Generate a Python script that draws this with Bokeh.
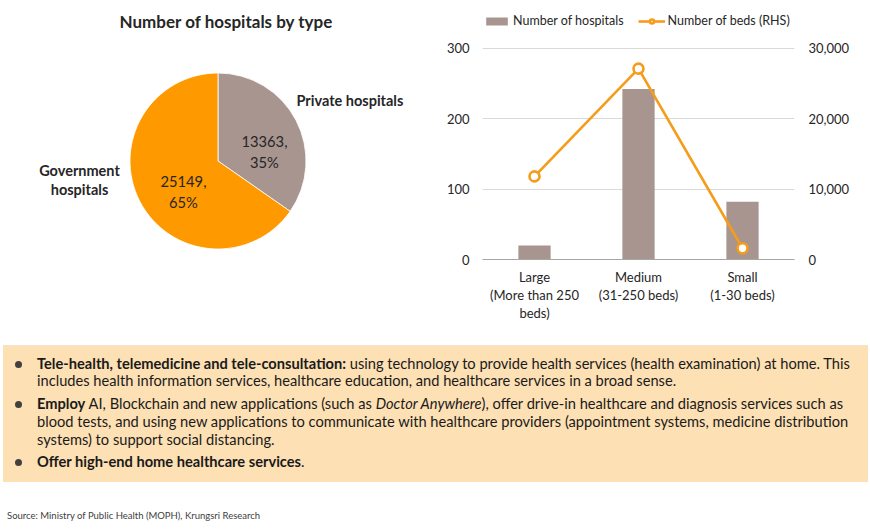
import math
from bokeh.plotting import figure
from bokeh.layouts import column, row
from bokeh.models import (Range1d, FactorRange, LinearAxis, CategoricalAxis, FixedTicker,
                          NumeralTickFormatter, Legend, LegendItem, Div,
                          ColumnDataSource)
from bokeh.core.properties import value
from bokeh.embed import file_html
from bokeh.resources import INLINE

# ---------------- data ----------------
pie_title = "Number of hospitals by type"
pie_labels = ["Private hospitals", "Government\nhospitals"]
pie_values = [13363, 25149]

categories = ["Large", "Medium", "Small"]
label_line2 = ["(More than 250", "(31-250 beds)", "(1-30 beds)"]
label_line3 = ["beds)", " ", "  "]
hospitals = [20, 242, 82]
beds = [11800, 27100, 1600]
left_ticks = [0, 100, 200, 300]
right_ticks = [0, 10000, 20000, 30000]
series_names = ["Number of hospitals", "Number of beds (RHS)"]

source_note = "Source: Ministry of Public Health (MOPH), Krungsri Research"

# ---------------- styles ----------------
FONT = "Lato"
GRAY = "#A8958F"
ORANGE = "#FF9900"
LINE_ORANGE = "#F59C1A"
TXT = "#262626"
TOP_H = 335
BORDER_TOP, BORDER_BOTTOM = 8, 76
FRAME_H = TOP_H - BORDER_TOP - BORDER_BOTTOM      # 251 px
AXIS_H = 211.3                                    # px from 0 to 300 gridline
HEADROOM = FRAME_H / AXIS_H                       # room kept for the legend

# ---------------- pie ----------------
pie = figure(width=428, height=TOP_H, x_range=Range1d(0, 428),
             y_range=Range1d(BORDER_BOTTOM, TOP_H - BORDER_TOP),
             output_backend="svg", toolbar_location=None,
             min_border_left=0, min_border_right=0,
             min_border_top=BORDER_TOP, min_border_bottom=BORDER_BOTTOM)
pie.axis.visible = False
pie.grid.visible = False
pie.outline_line_color = None

total = sum(pie_values)
starts, ends = [], []
cum = 0.0
for v in pie_values:
    starts.append(math.pi / 2 - 2 * math.pi * cum / total)
    cum += v
    ends.append(math.pi / 2 - 2 * math.pi * cum / total)

cx, cy, r = 217.5, TOP_H - 160.5, 88
pie.wedge(x=cx, y=cy, radius=r, radius_units="screen",
          start_angle=starts, end_angle=ends, direction="clock",
          fill_color=[GRAY, ORANGE], line_color="white", line_width=0.8)

pie.text(x=[226], y=[TOP_H - 21], text=[pie_title], text_font=value(FONT),
         text_font_size="17px", text_font_style="bold", text_color=TXT,
         text_align="center", text_baseline="middle")

# data labels
data_offsets = [(46.5, 9.5), (-34.5, -30.5)]
pie.text(x=[cx + dx for dx, dy in data_offsets], y=[cy + dy for dx, dy in data_offsets],
         text=[f"{v},\n{round(100 * v / total)}%" for v in pie_values],
         text_font=value(FONT), text_font_size="14.7px", text_color=TXT,
         text_align="center", text_baseline="middle", text_line_height=1.22)

# category labels
pie.text(x=[cx + 78.5], y=[cy + 60.5], text=[pie_labels[0]],
         text_font=value(FONT), text_font_size="14.5px", text_font_style="bold",
         text_color=TXT, text_align="left", text_baseline="middle")
pie.text(x=[cx - 138.5], y=[cy - 19], text=[pie_labels[1]],
         text_font=value(FONT), text_font_size="14.5px", text_font_style="bold",
         text_color=TXT, text_align="center", text_baseline="middle", text_line_height=1.17)

# ---------------- bar + line ----------------
bar = figure(width=442, height=TOP_H, x_range=FactorRange(factors=categories, range_padding=0),
             y_range=Range1d(0, left_ticks[-1] * HEADROOM), output_backend="svg",
             toolbar_location=None, min_border_left=54, min_border_right=76,
             min_border_top=BORDER_TOP, min_border_bottom=BORDER_BOTTOM)
bar.outline_line_color = None
bar.extra_y_ranges = {"beds": Range1d(0, right_ticks[-1] * HEADROOM)}
bar.extra_x_ranges = {"l2": FactorRange(factors=label_line2, range_padding=0),
                      "l3": FactorRange(factors=label_line3, range_padding=0)}

src = ColumnDataSource(dict(cat=categories, hosp=hospitals, beds=beds))
vb = bar.vbar(x="cat", top="hosp", width=0.31, source=src, fill_color=GRAY, line_color=None)
ln = bar.line(x="cat", y="beds", source=src, y_range_name="beds",
              line_color=LINE_ORANGE, line_width=2.6)
sc = bar.scatter(x="cat", y="beds", source=src, y_range_name="beds", size=10,
                 fill_color="white", line_color=LINE_ORANGE, line_width=2.6)

bar.xgrid.visible = False
bar.ygrid.grid_line_color = "#D9D9D9"
bar.ygrid.ticker = FixedTicker(ticks=left_ticks)

def style_ax(ax, standoff):
    ax.axis_line_color = None
    ax.major_tick_line_color = None
    ax.minor_tick_line_color = None
    ax.major_tick_out = 0
    ax.major_tick_in = 0
    ax.major_label_standoff = standoff
    ax.major_label_text_font = FONT
    ax.major_label_text_font_size = "13px"
    ax.major_label_text_color = TXT

bar.yaxis.ticker = FixedTicker(ticks=left_ticks)
style_ax(bar.yaxis[0], 13)

ry = LinearAxis(y_range_name="beds", ticker=FixedTicker(ticks=right_ticks),
                formatter=NumeralTickFormatter(format="0,0"))
style_ax(ry, 14)
bar.add_layout(ry, "right")

# x axis: three stacked label rows
xa = bar.xaxis[0]
style_ax(xa, 9)
xa.axis_line_color = "#A6A6A6"
for name in ("l2", "l3"):
    ax = CategoricalAxis(x_range_name=name)
    style_ax(ax, -1)
    bar.add_layout(ax, "below")

legend = Legend(items=[LegendItem(label=series_names[0], renderers=[vb]),
                       LegendItem(label=series_names[1], renderers=[ln, sc])],
                orientation="horizontal", location=(1, 231),
                glyph_width=27, glyph_height=10, label_height=10,
                label_standoff=3, spacing=14, padding=0, margin=0,
                border_line_color=None, background_fill_alpha=0,
                label_text_font=FONT, label_text_font_size="12.5px",
                label_text_color=TXT)
bar.add_layout(legend, "center")

# ---------------- text box ----------------
def line_div(center, html, bullet=False):
    b = ""
    if bullet:
        b = (f'<div style="position:absolute;left:15px;top:{center - 3.5}px;width:7px;height:7px;'
             'border-radius:50%;background:#404040;"></div>')
    return b + (f'<div style="position:absolute;left:37px;top:{center - 9}px;height:18px;line-height:18px;'
                f'white-space:nowrap;font-family:{FONT};font-size:14.65px;color:#1a1a1a;">{html}</div>')

box_lines = [
    ("<b>Tele-health, telemedicine and tele-consultation:</b> using technology to provide health services (health examination) at home. This", True),
    ("includes health information services, healthcare education, and healthcare services in a broad sense.", False),
    ("<b>Employ</b> AI, Blockchain and new applications (such as <i>Doctor Anywhere</i>), offer drive-in healthcare and diagnosis services such as", True),
    ("blood tests, and using new applications to communicate with healthcare providers (appointment systems, medicine distribution", False),
    ("systems) to support social distancing.", False),
    ("<b>Offer high-end home healthcare services</b>.", True),
]
line_centers = [29, 46, 69, 87, 105, 127]

inner = ('<div style="position:absolute;left:3px;top:10px;width:865px;height:137px;'
         'background:#FDE0B4;border-top:1px solid #F3E3CB;"></div>')
for (h, bl), c in zip(box_lines, line_centers):
    inner += line_div(c, h, bl)
inner += (f'<div style="position:absolute;left:7px;top:175px;white-space:nowrap;font-family:{FONT};'
          f'font-size:9.5px;line-height:12px;color:#404040;">{source_note}</div>')
html = f'<div style="position:relative;width:870px;height:194px;">{inner}</div>'
box = Div(text=html, width=870, height=194, margin=0)

layout = column(row(pie, bar), box)
open("out.html", "w").write(file_html(layout, INLINE))
